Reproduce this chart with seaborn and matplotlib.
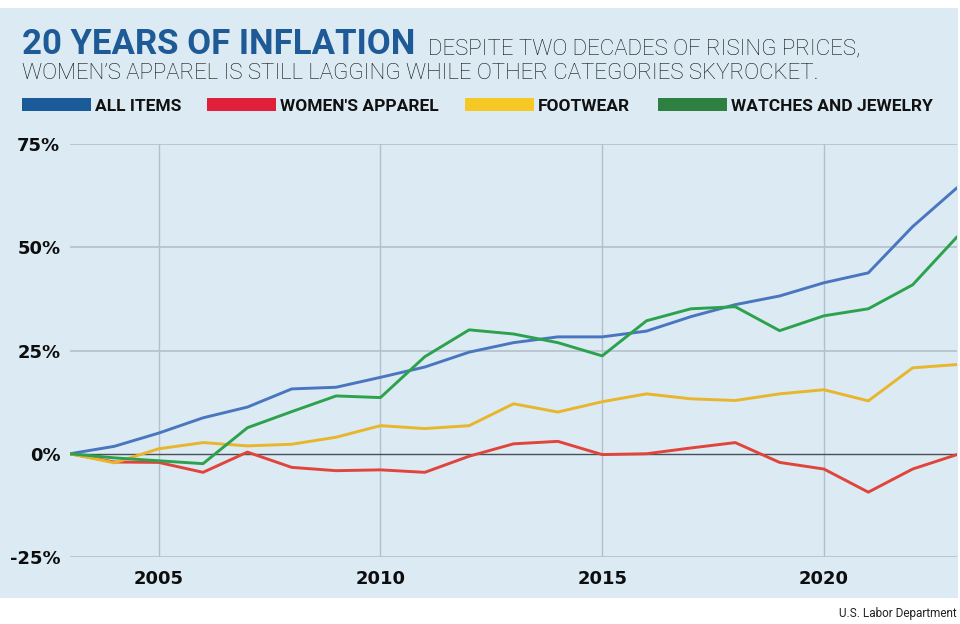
import matplotlib
matplotlib.use("Agg")
import matplotlib.pyplot as plt
from matplotlib.patches import Rectangle
import seaborn as sns
import pandas as pd
import numpy as np

# ---------------- data ----------------
years = list(range(2003, 2024))
all_items = [0, 1.8, 5.0, 8.7, 11.3, 15.7, 16.1, 18.5, 21.0, 24.6, 26.9, 28.3, 28.3,
             29.7, 33.2, 36.1, 38.2, 41.4, 43.8, 55.0, 64.4]
womens_apparel = [0, -2.0, -2.1, -4.5, 0.4, -3.3, -4.1, -3.9, -4.5, -0.6, 2.4, 3.0, -0.2,
                  0.0, 1.4, 2.7, -2.1, -3.7, -9.3, -3.7, -0.2]
footwear = [0, -2.2, 1.2, 2.7, 1.9, 2.3, 4.0, 6.8, 6.1, 6.8, 12.1, 10.1, 12.6,
            14.5, 13.3, 12.9, 14.5, 15.5, 12.8, 20.8, 21.6]
watches_jewelry = [0, -1.0, -1.7, -2.4, 6.3, 10.2, 14.0, 13.6, 23.5, 30.0, 29.0, 26.9, 23.7,
                   32.2, 35.1, 35.6, 29.8, 33.4, 35.1, 40.9, 52.5]
series_names = ["ALL ITEMS", "WOMEN'S APPAREL", "FOOTWEAR", "WATCHES AND JEWELRY"]
yticks = [-25, 0, 25, 50, 75]
ytick_labels = ["-25%", "0%", "25%", "50%", "75%"]
xticks = [2005, 2010, 2015, 2020]
xtick_labels = ["2005", "2010", "2015", "2020"]

title = "20 YEARS OF INFLATION"
subtitle1 = "DESPITE TWO DECADES OF RISING PRICES,"
subtitle2 = "WOMEN\u2019S APPAREL IS STILL LAGGING WHILE OTHER CATEGORIES SKYROCKET."
source = "U.S. Labor Department"

line_colors = ["#4a76c0", "#e0443a", "#e9b52c", "#2ca24c"]
swatch_colors = ["#1b5a98", "#e0203a", "#f5c823", "#2e8040"]

# ---------------- style ----------------
sns.set_theme(style="white")
plt.rcParams["font.family"] = ["DejaVu Sans"]

BG = "#dbeaf3"
W, H = 960, 624
fig = plt.figure(figsize=(9.6, 6.24), dpi=100, facecolor="white")

def fx(x):
    return x / W

def fy(y):
    return 1 - y / H

# background panel
fig.patches.append(Rectangle((0, fy(598)), fx(958), fy(8) - fy(598),
                             transform=fig.transFigure, facecolor=BG,
                             edgecolor="none", zorder=-10))

ax = fig.add_axes([fx(70), fy(557), fx(957) - fx(70), fy(144) - fy(557)])
ax.set_zorder(5)
ax.patch.set_alpha(0)

df = pd.DataFrame({
    "year": years * 4,
    "value": all_items + womens_apparel + footwear + watches_jewelry,
    "series": sum([[n] * len(years) for n in series_names], []),
})
sns.lineplot(data=df, x="year", y="value", hue="series", palette=line_colors,
             hue_order=series_names, linewidth=2.1, ax=ax, legend=False, zorder=3)

ax.set_xlim(2003, 2023)
ax.set_ylim(-25, 75)
ax.set_yticks(yticks)
ax.set_yticklabels(ytick_labels)
ax.set_xticks(xticks)
ax.set_xticklabels(xtick_labels)
ax.set_xlabel("")
ax.set_ylabel("")
for lab in ax.get_xticklabels() + ax.get_yticklabels():
    lab.set_fontweight("bold")
    lab.set_fontsize(13)
    lab.set_color("#0d0d0d")
ax.tick_params(axis="y", length=0, pad=7)
ax.tick_params(axis="x", length=0, pad=9)

grid_c = "#b4c0c9"
for yv in [25, 50, 75, -25]:
    ax.axhline(yv, color=grid_c, lw=1.2, zorder=1)
for xv in xticks:
    ax.axvline(xv, color=grid_c, lw=1.0, zorder=1)
ax.axhline(0, color="#4a4f55", lw=1.0, zorder=2)
for s in ax.spines.values():
    s.set_visible(False)

# ---------------- title & legend ----------------
t = fig.text(fx(22), fy(54), title, fontsize=25, fontweight="bold",
             color="#1d5a96", family=["Roboto", "DejaVu Sans"], va="baseline")
fig.canvas.draw()
bb = t.get_window_extent()
fig.text(bb.x1 / W + fx(13), fy(54), subtitle1, fontsize=16, fontweight="light",
         color="#111111", family=["Roboto", "DejaVu Sans"], va="baseline")
fig.text(fx(22), fy(79), subtitle2, fontsize=16, fontweight="light",
         color="#111111", family=["Roboto", "DejaVu Sans"], va="baseline")

sw_x = [22, 207, 465, 658]
for x0, c, name in zip(sw_x, swatch_colors, series_names):
    fig.patches.append(Rectangle((fx(x0), fy(111)), fx(69), fy(98) - fy(111),
                                 transform=fig.transFigure, facecolor=c,
                                 edgecolor="none", zorder=2))
    fig.text(fx(x0 + 73), fy(111), name, fontsize=12.5, fontweight="bold",
             color="#111111", family=["Roboto", "DejaVu Sans"], va="baseline")

fig.text(fx(957), fy(617), source, fontsize=8.5, color="#222222",
         family=["Roboto", "DejaVu Sans"],
         ha="right", va="baseline")

fig.savefig("out.png", dpi=100, facecolor="white")
